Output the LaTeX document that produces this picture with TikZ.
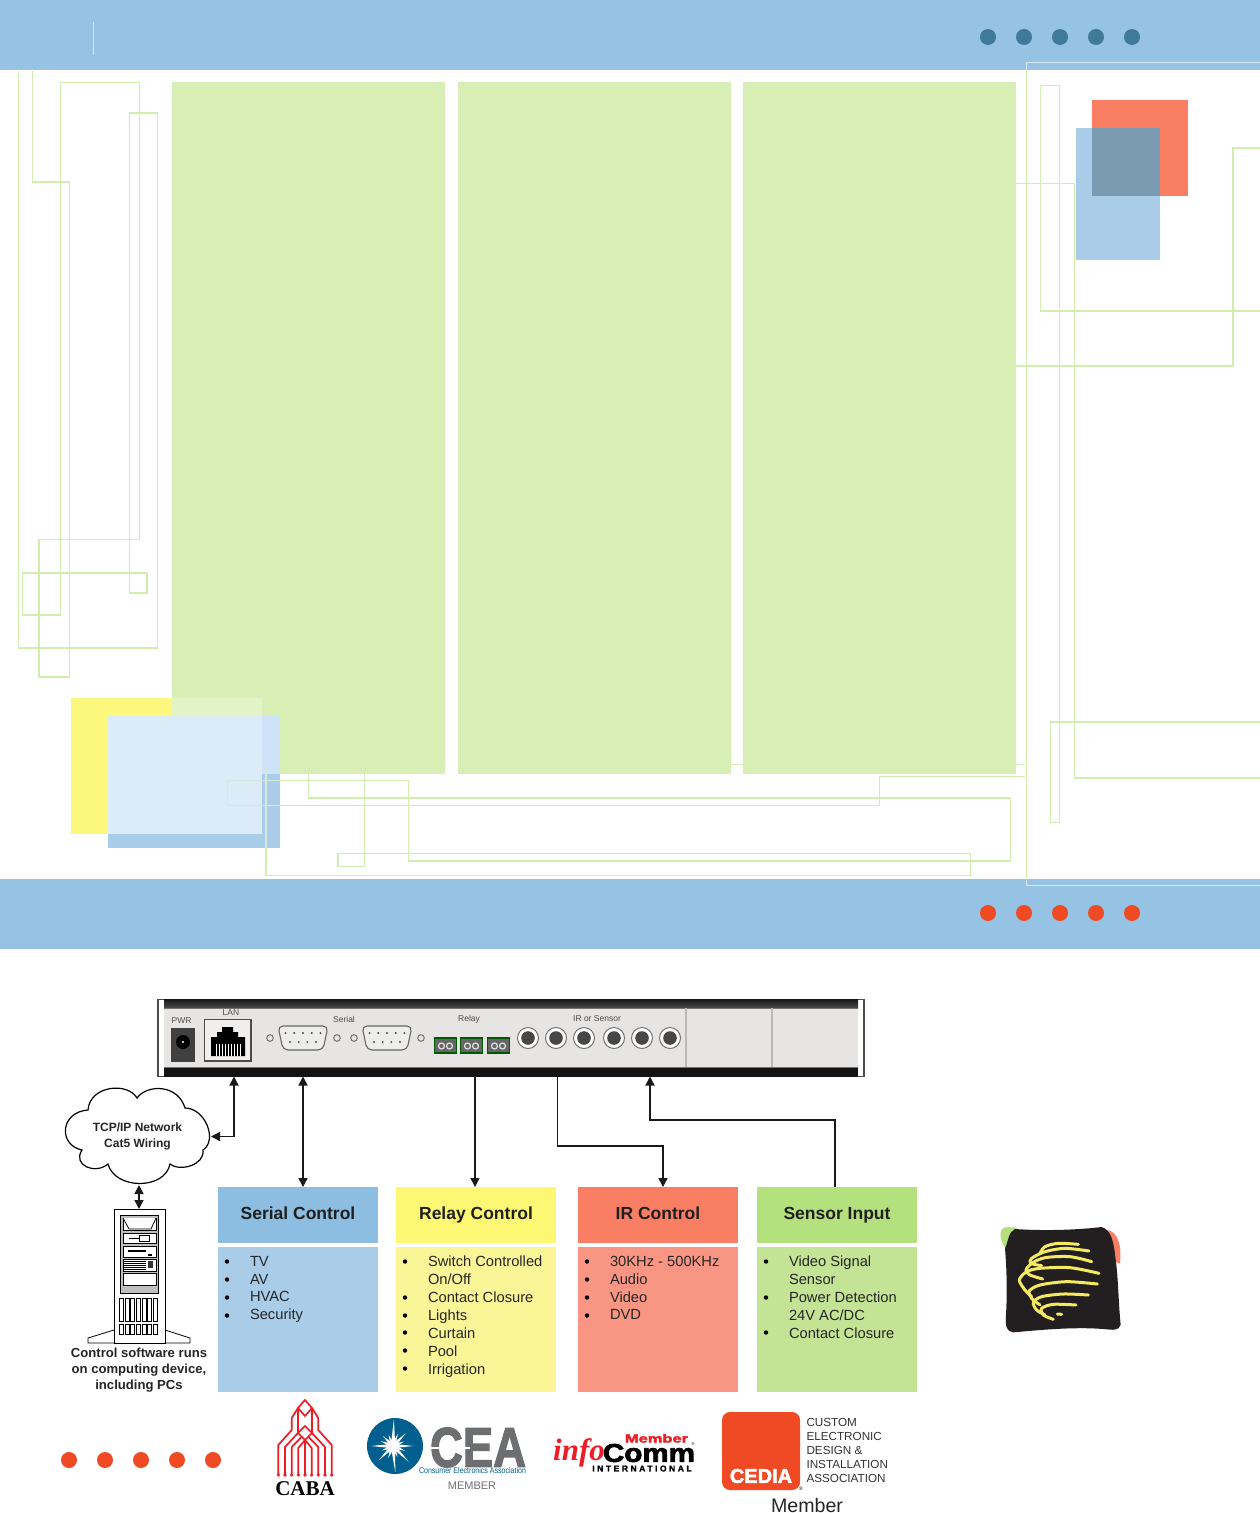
\documentclass[tikz,border=0pt]{standalone}
\usepackage{fontspec}
\usepackage{graphicx}
\setmainfont{Liberation Sans}
\newfontfamily\cabafont{Liberation Serif}
\newfontfamily\widefont[LetterSpace=30,FakeBold=1.5]{Liberation Sans Bold}
\newfontfamily\heavyfont[FakeBold=2.5]{Liberation Sans Bold}
\usetikzlibrary{arrows.meta,calc}
\definecolor{bandblue}{HTML}{96C3E4}
\definecolor{panelgreen}{HTML}{D7EFB4}
\definecolor{thinc}{HTML}{D2EEAF}
\definecolor{boxblue}{HTML}{A9CDE8}
\definecolor{boxblueh}{HTML}{8DBDE0}
\definecolor{boxyel}{HTML}{FAF597}
\definecolor{boxyelh}{HTML}{FDF873}
\definecolor{boxred}{HTML}{F89683}
\definecolor{boxredh}{HTML}{F97E64}
\definecolor{boxgrn}{HTML}{C3E495}
\definecolor{boxgrnh}{HTML}{B5E07E}
\definecolor{dotred}{HTML}{F04A25}
\definecolor{dotblue}{HTML}{3F7A9B}
\definecolor{panelgrey}{HTML}{E6E5E3}
\definecolor{ceablue}{HTML}{005F8F}
\definecolor{ceagrey}{HTML}{6D6E70}
\definecolor{logoyel}{HTML}{F5E960}
\definecolor{cabared}{HTML}{EE1C25}
\definecolor{sqyellow}{HTML}{FCF87D}
\definecolor{sqgreen}{HTML}{E2F3C6}
\definecolor{sqmid}{HTML}{CEE3F7}
\definecolor{sqlight}{HTML}{DCEBF8}
\definecolor{sqdark}{HTML}{7B9BB3}
\definecolor{paleA}{HTML}{D6E8DC}
\definecolor{paleB}{HTML}{D8E9F2}
\definecolor{logoblack}{HTML}{231F20}
\tikzset{
  thinline/.style={draw=thinc,line width=1.3pt,line join=miter},
  flat/.style={draw=none,inner sep=0pt,outer sep=0pt},
  conn/.style={line width=1.4pt,black!90},
  onearrow/.style={conn,-{Triangle[length=9pt,width=9pt]}},
  twoarrow/.style={conn,{Triangle[length=9pt,width=9pt]}-{Triangle[length=9pt,width=9pt]}},
  hdr/.style={flat,minimum width=160pt,minimum height=56pt,text height=12pt,text depth=3pt,text=black!88,font=\fontsize{17.5}{20}\selectfont\bfseries},
  bodybox/.style={flat,minimum width=160pt,minimum height=145pt},
  listtext/.style={flat,anchor=north west,align=left,text=black!85,font=\fontsize{14.7}{17.9}\selectfont},
  bulletdot/.style={fill=black,draw=none},
  smalllabel/.style={flat,text=black!70,font=\fontsize{8.5}{10}\selectfont},
  serverpart/.style={draw=black,line width=0.8pt,fill=white},
}
\newcommand\dbnine[1]{%
  \begin{scope}[shift={(#1,1038)}]
    \draw[black!60,fill=panelgrey!70!white,line width=1.1pt,rounded corners=5pt] (-25,-12) -- (25,-12) -- (20,12) -- (-20,12) -- cycle;
    \foreach \k in {-2,...,2} \fill[black!70] (\k*8.7,-5) circle (1.1);
    \foreach \k in {-1.5,-0.5,0.5,1.5} \fill[black!70] (\k*8.7,4) circle (1.1);
    \draw[black!55,line width=1pt,fill=panelgrey] (-33,0) circle (3.3);
    \draw[black!55,line width=1pt,fill=panelgrey] (34,0) circle (3.3);
  \end{scope}}
\newcommand\relayblock[1]{%
  \begin{scope}[shift={(#1,1038)}]
    \fill[black!60,draw=green!35!black,line width=1.4pt] (0,0) rectangle (22,15);
    \draw[white!85!black,line width=1.3pt] (7,8) circle (3);
    \draw[white!85!black,line width=1.3pt] (15,8) circle (3);
  \end{scope}}
\begin{document}
\begin{tikzpicture}[x=1pt,y=-1pt]
\useasboundingbox (0,0) rectangle (1260,1513);
\fill[white] (0,0) rectangle (1260,1513);
% bands
\fill[bandblue] (0,0) rectangle (1260,70);
\fill[bandblue] (0,879) rectangle (1260,949);
\draw[white!60!bandblue,line width=1pt] (93.5,22) -- (93.5,55);
% panels
\fill[panelgreen] (172,82) rectangle (445,773.5);
\fill[panelgreen] (457.5,82) rectangle (731,773.5);
\fill[panelgreen] (742.5,82) rectangle (1016,773.5);
% lower-left squares
\fill[sqyellow] (71,698) rectangle (262,834);
\fill[boxblue] (108,716) rectangle (280,848);
\fill[sqgreen] (172,698) rectangle (262,716);
\fill[sqmid] (262,716) rectangle (280,773.5);
\fill[sqlight] (108,716) rectangle (262,834);
% upper-right squares
\fill[boxredh] (1092,100) rectangle (1188,196);
\fill[boxblue] (1076,128) rectangle (1160,260);
\fill[sqdark] (1092,128) rectangle (1160,196);
% thin lines
\draw[thinline] (18.5,71) -- (18.5,648) -- (157.5,648) -- (157.5,113) -- (129.5,113) -- (129.5,593) -- (147,593) -- (147,573) -- (22.5,573) -- (22.5,615) -- (60.5,615) -- (60.5,82.5) -- (139.5,82.5) -- (139.5,539.5) -- (39,539.5) -- (39,677) -- (69.8,677) -- (69.8,182) -- (32.7,182) -- (32.7,71);
\draw[thinline] (280,780.7) -- (408.7,780.7) -- (408.7,861) -- (1010.5,861) -- (1010.5,798) -- (308.7,798) -- (308.7,773.5);
\draw[thinline] (280,805.3) -- (879.5,805.3) -- (879.5,776.5) -- (1025,776.5);
\draw[thinline] (280,875.6) -- (970.5,875.6) -- (970.5,853.3) -- (338,853.3) -- (338,866.7) -- (364.7,866.7) -- (364.7,773.5);
\draw[thinline] (266,848) -- (266,875.6) -- (280,875.6);
\draw[draw=paleA,line width=1.3pt] (280,780.7) -- (227.5,780.7) -- (227.5,805.3) -- (280,805.3);
\draw[draw=paleA,line width=1.3pt] (266,765) -- (266,848);
\draw[thinline] (731,764.3) -- (742.5,764.3);
\draw[thinline] (1016,764.3) -- (1025,764.3);
\draw[thinline] (1260,311) -- (1040.7,311) -- (1040.7,85.3) -- (1059.5,85.3) -- (1059.5,822.7) -- (1050.5,822.7) -- (1050.5,722) -- (1260,722);
\draw[thinline] (1016,183.3) -- (1074.3,183.3) -- (1074.3,778) -- (1260,778);
\draw[thinline] (1016,366) -- (1233,366) -- (1233,148) -- (1260,148);
\draw[thinline] (1026.5,70) -- (1026.5,879);
\draw[draw=paleB,line width=1.1pt] (1026.5,70) -- (1026.5,62.7) -- (1260,62.7);
\draw[draw=paleB,line width=1.1pt] (1026.5,879) -- (1026.5,885.3) -- (1260,885.3);
% dots
\foreach \x in {988,1024,1060,1096,1132} {
  \fill[dotblue] (\x,37) circle (8);
  \fill[dotred] (\x,913) circle (8);
}
\foreach \x in {69,105,141,177,213} \fill[dotred] (\x,1460) circle (8);
% device
\node[flat,draw=black!70,line width=1.2pt,fill=white,minimum width=706pt,minimum height=77pt] (device) at (511,1038) {};
\fill[panelgrey] (164,1008) rectangle (858,1068);
\shade[top color=black!90,bottom color=black!70] (164,999.5) rectangle (858,1008);
\fill[black!92] (164,1068) rectangle (858,1076.5);
\draw[black!55,line width=0.7pt] (164,1008) -- (858,1008) (164,1067.5) -- (858,1067.5);
\draw[black!28,line width=1.2pt] (686,1008) -- (686,1067) (772,1008) -- (772,1067);
\node[smalllabel] (pwr) at (181.5,1021) {PWR};
\node[smalllabel] (lan) at (231,1013) {LAN};
\node[smalllabel] (serial) at (344,1019) {Serial};
\node[smalllabel] (relay) at (469,1019) {Relay};
\node[smalllabel] (irs) at (597,1019) {IR or Sensor};
\fill[black!75] (171,1028) rectangle (195,1062);
\fill[black] (183,1042) circle (7);
\fill[white] (183,1042) circle (1.2);
\draw[black!70,fill=panelgrey!60!white,line width=1.1pt] (204.5,1019.5) rectangle (251,1061);
\fill[black] (211,1056) -- (211,1037) -- (217,1037) -- (217,1032) -- (222,1032) -- (222,1027) -- (233,1027) -- (233,1032) -- (238,1032) -- (238,1037) -- (245,1037) -- (245,1056) -- cycle;
\foreach \x in {216,219,...,240} \draw[white,line width=0.8pt] (\x,1044) -- (\x,1056);
\dbnine{303}
\dbnine{387}
\relayblock{434.5}
\relayblock{460.5}
\relayblock{487.5}
\foreach \x in {528,556,584,614,642,670} {
  \draw[black!55,fill=white,line width=1pt] (\x,1038) circle (10.5);
  \fill[black!72] (\x,1038) circle (6.8);
}
% cloud
\node[flat,minimum width=146pt,minimum height=97pt] (cloud) at (138,1136.5) {};
\draw[black,line width=1.2pt,fill=white] (137,1098)
  .. controls (147,1084) and (178,1084) .. (185,1108)
  .. controls (205,1108) and (218,1140) .. (203,1150)
  .. controls (205,1165) and (180,1172) .. (170,1164)
  .. controls (165,1190) and (115,1190) .. (108,1164)
  .. controls (95,1175) and (72,1165) .. (82,1150)
  .. controls (58,1145) and (60,1112) .. (88,1110)
  .. controls (90,1085) and (128,1082) .. (137,1098) -- cycle;
\node[flat,align=center,text=black!85,font=\fontsize{12}{16}\selectfont\bfseries] (cloudtext) at (137.5,1136) {TCP/IP Network\\Cat5 Wiring};
% server
\draw[serverpart] (114,1330) -- (88,1338) -- (88,1343) -- (190,1343) -- (190,1338) -- (165,1330) -- cycle;
\node[flat,draw=black,fill=white,line width=0.8pt,minimum width=51pt,minimum height=134pt] (pc) at (139.5,1276) {};
\draw[serverpart,fill=black!25] (120,1215) rectangle (158,1293);
\draw[serverpart] (123,1218) rectangle (156,1230);
\draw[serverpart] (123,1218) -- (129,1229) -- (151,1229) -- (156,1218);
\draw[serverpart] (123,1233) rectangle (156,1243);
\draw[line width=0.8pt] (129,1238) -- (139,1238);
\draw[serverpart] (139,1235.5) rectangle (149,1241);
\draw[serverpart] (123,1246) rectangle (156,1257);
\draw[line width=1.4pt] (128,1251) -- (146,1251);
\fill[black] (148,1254) rectangle (152,1256);
\draw[serverpart] (123,1259) rectangle (156,1271);
\foreach \y in {1261,1263,...,1269} \draw[line width=0.6pt] (124,\y) -- (146,\y);
\fill[black!80] (148,1261) rectangle (153,1268);
\draw[serverpart] (123,1273) rectangle (156,1285);
\foreach \k in {0,...,6} {
  \draw[serverpart] (119.5+\k*5.6,1298) rectangle (123.5+\k*5.6,1321);
  \draw[serverpart] (119.5+\k*5.6,1324) rectangle (123.5+\k*5.6,1334);
}
\node[flat,align=center,font=\fontsize{13.1}{15.9}\selectfont\bfseries,text=black!85] (pctext) at (139,1370) {Control software runs\\on computing device,\\including PCs};
% boxes
\node[hdr,fill=boxblueh] (serialh) at (298,1215) {Serial Control};
\node[bodybox,fill=boxblue] (serialb) at (298,1319.5) {};
\node[hdr,fill=boxyelh] (relayh) at (476,1215) {Relay Control};
\node[bodybox,fill=boxyel] (relayb) at (476,1319.5) {};
\node[hdr,fill=boxredh] (irh) at (658,1215) {IR Control};
\node[bodybox,fill=boxred] (irb) at (658,1319.5) {};
\node[hdr,fill=boxgrnh] (sensorh) at (837,1215) {Sensor Input};
\node[bodybox,fill=boxgrn] (sensorb) at (837,1319.5) {};
\node[listtext] (seriall) at (250,1256) {TV\\AV\\HVAC\\Security};
\node[listtext] (relayl) at (428,1256) {Switch Controlled\\On/Off\\Contact Closure\\Lights\\Curtain\\Pool\\Irrigation};
\node[listtext] (irl) at (610,1256) {30KHz - 500KHz\\Audio\\Video\\DVD};
\node[listtext] (sensorl) at (789,1256) {Video Signal\\Sensor\\Power Detection\\24V AC/DC\\Contact Closure};
\foreach \y in {1261.5,1279.5,1297.5,1315.5} \fill[bulletdot] (227,\y) circle (2.2);
\foreach \y in {1261.5,1297.5,1315.5,1332.5,1350.5,1368.5} \fill[bulletdot] (405,\y) circle (2.2);
\foreach \y in {1261.5,1279.5,1297.5,1315.5} \fill[bulletdot] (587,\y) circle (2.2);
\foreach \y in {1261.5,1297.5,1332.5} \fill[bulletdot] (766,\y) circle (2.2);
% connectors
\draw[twoarrow] ([xshift=-277pt]device.south) |- (cloud.east);
\draw[twoarrow] ([xshift=5pt]serialh.north) -- ([xshift=5pt]serialh.north |- device.south);
\draw[onearrow] ([xshift=-1pt]relayh.north |- device.south) -- ([xshift=-1pt]relayh.north);
\draw[onearrow] ([xshift=-100.5pt]irh.north |- device.south) -- ([xshift=-100.5pt,yshift=41pt]irh.north) -- ([xshift=5pt,yshift=41pt]irh.north) -- ([xshift=5pt]irh.north);
\draw[onearrow] ([xshift=-2pt]sensorh.north) -- ([xshift=-2pt,yshift=67pt]sensorh.north) -- ([xshift=-187pt,yshift=67pt]sensorh.north) -- ([xshift=-187pt]sensorh.north |- device.south);
\draw[twoarrow] ([xshift=1pt]cloud.south) -- ([xshift=1pt]pc.north -| cloud.south);
% CABA logo
\begin{scope}[shift={(305,0)},cabared,line width=1.7pt,line join=miter]
  \draw (0,1400) -- (7,1408) -- (0,1416) -- (-7,1408) -- cycle;
  \draw (0,1426) -- (7,1433) -- (0,1440) -- (-7,1433) -- cycle;
  \foreach \s in {1,-1} {
    \draw (\s*26.7,1475) -- (\s*26.7,1445) -- (\s*13.3,1430) -- (\s*13.3,1418) -- (\s*7,1408);
    \draw (\s*20,1475) -- (\s*20,1447) -- (\s*7,1433) -- (\s*7,1408);
    \draw (\s*13.3,1475) -- (\s*13.3,1447) -- (\s*3.5,1437);
    \draw (\s*6.7,1475) -- (\s*6.7,1448) -- (0,1440);
  }
  \draw (0,1475) -- (0,1440);
  \foreach \k in {-4,...,4} \fill (\k*6.67,1475) circle (1.8);
\end{scope}
\node[flat,font=\fontsize{21}{24}\selectfont\bfseries\cabafont] (caba) at (305,1489) {CABA};
% CEA logo
\fill[ceablue] (395,1446) circle (28);
\foreach \a/\l in {0/20,22/13,45/22,68/12,85/26,112/13,135/20,158/12,180/22,202/13,225/14,248/12,272/27,292/13,315/18,338/12}
  \fill[white] ($(393,1446)+(\a+90:2.2)$) -- ($(393,1446)+(\a:\l)$) -- ($(393,1446)+(\a-90:2.2)$) -- cycle;
\fill[white] (393,1446) circle (4);
\node[flat,text=ceagrey] (cea) at (478,1447.5) {\resizebox{96pt}{39pt}{\heavyfont CEA}};
\fill[white] (430,1447.3) rectangle (470,1449);
\node[flat,text=ceablue] (ceaname) at (472.5,1471) {\resizebox{107pt}{6pt}{Consumer Electronics Association}};
\node[flat,text=ceagrey,font=\fontsize{11}{13}\selectfont] (ceamember) at (472,1486) {MEMBER};
% InfoComm logo
\node[flat,text=cabared,font=\fontsize{31}{34}\selectfont\itshape\bfseries\cabafont] (info) at (579,1453) {info};
\node[flat] (comm) at (649,1453) {\resizebox{92pt}{18pt}{\heavyfont Comm}};
\node[flat,text=cabared] (member) at (656.5,1438.3) {\resizebox{63pt}{8.5pt}{\heavyfont Member}};
\node[flat,font=\fontsize{8.5}{10}\selectfont\widefont] (intl) at (642,1468.5) {INTERNATIONAL};
\node[flat,font=\fontsize{4}{5}\selectfont] (commreg) at (693,1444) {®};
% CEDIA logo
\node[flat,fill=dotred,rounded corners=8pt,minimum width=78pt,minimum height=78pt] (cediabox) at (761,1451) {};
\node[flat,text=white,font=\fontsize{20}{24}\selectfont\heavyfont] (cedia) at (761,1476) {CEDIA};
\node[flat,font=\fontsize{5}{6}\selectfont] (cediareg) at (801,1489) {®};
\node[flat,anchor=north west,align=left,text=black!80,font=\fontsize{11.7}{14}\selectfont] (cediatext) at (806.5,1418.5) {CUSTOM\\ELECTRONIC\\DESIGN \&\\INSTALLATION\\ASSOCIATION};
\node[flat,text=black!85,font=\fontsize{19.6}{22}\selectfont] (cediamember) at (807,1505) {Member};
% corner logo
\begin{scope}[shift={(990,1215)},x=0.3333pt,y=-0.3333pt]
  \fill[boxgrnh] (50,36) .. controls (25,38) and (25,70) .. (50,105) -- (80,90) -- (80,38) -- cycle;
  \fill[boxredh] (350,45) .. controls (385,50) and (395,90) .. (390,145) -- (340,130) -- cycle;
  \fill[logoblack] (75,42) .. controls (160,48) and (260,45) .. (335,36)
    .. controls (360,45) and (370,70) .. (375,120) .. controls (385,180) and (385,260) .. (392,330)
    .. controls (385,348) and (370,345) .. (340,342) .. controls (250,335) and (150,345) .. (70,352)
    .. controls (50,350) and (45,335) .. (48,300) .. controls (52,230) and (50,160) .. (45,100)
    .. controls (55,80) and (55,50) .. (75,42) -- cycle;
  \begin{scope}[draw=logoyel,line width=3pt,line cap=round,line join=round]
    \draw plot[smooth] coordinates {(265,88) (205,85) (165,95) (150,115)};
    \draw plot[smooth] coordinates {(297,108) (225,100) (165,110) (125,130) (122,145) (155,152)};
    \draw plot[smooth] coordinates {(305,140) (240,125) (165,128) (125,145) (108,165) (120,180) (158,192)};
    \draw plot[smooth] coordinates {(327,175) (240,158) (150,160) (110,170) (88,195) (105,225) (125,245)};
    \draw plot[smooth] coordinates {(322,207) (230,200) (150,210) (118,228) (125,250) (150,270)};
    \draw plot[smooth] coordinates {(295,240) (220,237) (155,245) (130,262) (140,285) (165,300)};
    \draw plot[smooth] coordinates {(258,270) (190,268) (155,280) (160,300) (190,313)};
    \draw (202,297) -- (215,298);
  \end{scope}
\end{scope}
\end{tikzpicture}
\end{document}
